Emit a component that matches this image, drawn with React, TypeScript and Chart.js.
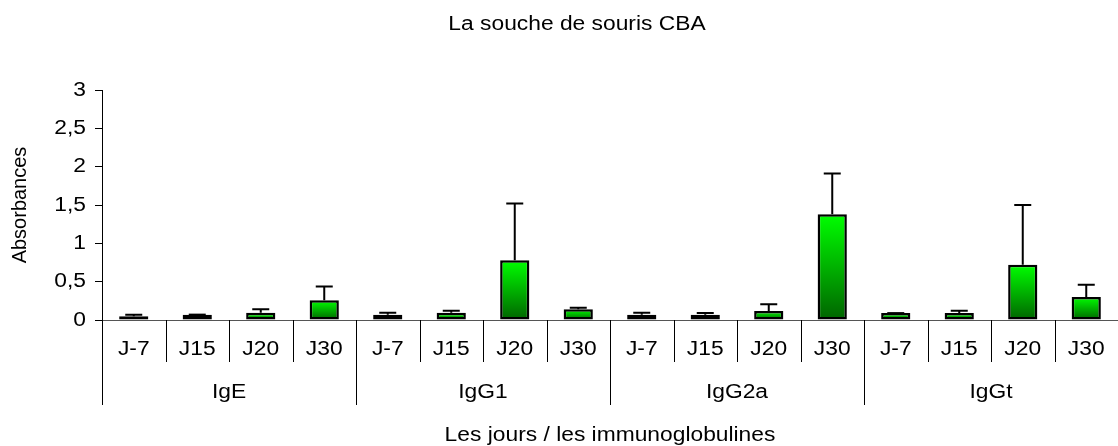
import React, { useEffect, useRef } from 'react';
import { Chart, registerables } from 'chart.js';

Chart.register(...registerables);

const chartTitle = 'La souche de souris CBA';
const xTitle = 'Les jours / les immunoglobulines';
const yTitle = 'Absorbances';
const groups = ['IgE', 'IgG1', 'IgG2a', 'IgGt'];
const days = ['J-7', 'J15', 'J20', 'J30'];

// mean absorbance per group (J-7, J15, J20, J30)
const igE = [0.05, 0.07, 0.095, 0.257];
const igG1 = [0.07, 0.095, 0.78, 0.14];
const igG2a = [0.07, 0.07, 0.117, 1.38];
const igGt = [0.09, 0.09, 0.72, 0.30];

// upper error (standard deviation) per group
const igEErr = [0.02, 0.0, 0.045, 0.18];
const igG1Err = [0.025, 0.025, 0.74, 0.02];
const igG2aErr = [0.025, 0.02, 0.09, 0.53];
const igGtErr = [0.0, 0.03, 0.78, 0.16];

const yTicks = [0, 0.5, 1, 1.5, 2, 2.5, 3];

const values = [...igE, ...igG1, ...igG2a, ...igGt];
const errors = [...igEErr, ...igG1Err, ...igG2aErr, ...igGtErr];
const labels = groups.flatMap((g) => days.map((d) => `${d} ${g}`));

const FONT = '"Liberation Sans", Arial, sans-serif';
const FS = 20;
const SX = 1.14;

function text(ctx: CanvasRenderingContext2D, s: string, x: number, y: number, align: CanvasTextAlign) {
  ctx.save();
  ctx.translate(x, y);
  ctx.scale(SX, 1);
  ctx.textAlign = align;
  ctx.fillText(s, 0, 0);
  ctx.restore();
}

const overlay = {
  id: 'overlay',
  afterDatasetsDraw(chart: any) {
    const { ctx, scales, chartArea } = chart;
    const x = scales.x;
    const y = scales.y;
    const meta = chart.getDatasetMeta(0);
    ctx.save();
    // error bars
    ctx.strokeStyle = '#000';
    ctx.lineWidth = 2;
    meta.data.forEach((bar: any, i: number) => {
      const py0 = y.getPixelForValue(values[i]);
      const py1 = y.getPixelForValue(values[i] + errors[i]);
      ctx.beginPath();
      ctx.moveTo(bar.x, py0);
      ctx.lineTo(bar.x, py1);
      ctx.moveTo(bar.x - 8.5, py1);
      ctx.lineTo(bar.x + 8.5, py1);
      ctx.stroke();
    });
    // multi-level category axis
    const bottom = chartArea.bottom;
    const half = (x.getPixelForValue(1) - x.getPixelForValue(0)) / 2;
    ctx.strokeStyle = '#000';
    ctx.lineWidth = 1;
    for (let i = 0; i < labels.length; i++) {
      const bx = Math.round(x.getPixelForValue(i) - half) + 0.5;
      ctx.beginPath();
      ctx.moveTo(bx, bottom);
      ctx.lineTo(bx, i % days.length === 0 ? bottom + 85 : bottom + 42);
      ctx.stroke();
    }
    ctx.fillStyle = '#000';
    ctx.font = `${FS}px ${FONT}`;
    ctx.textBaseline = 'alphabetic';
    labels.forEach((_, i) => {
      text(ctx, days[i % days.length], x.getPixelForValue(i), bottom + 35, 'center');
    });
    groups.forEach((g, gi) => {
      const a = x.getPixelForValue(gi * days.length) - half;
      const b = x.getPixelForValue(gi * days.length + days.length - 1) + half;
      text(ctx, g, (a + b) / 2, bottom + 78, 'center');
    });
    // y tick labels
    ctx.textBaseline = 'middle';
    yTicks.forEach((v) => {
      text(ctx, String(v).replace('.', ','), chartArea.left - 16, y.getPixelForValue(v), 'right');
    });
    // y title (rotated)
    ctx.save();
    ctx.translate(20, (chartArea.top + chartArea.bottom) / 2);
    ctx.rotate(-Math.PI / 2);
    ctx.textAlign = 'center';
    ctx.fillText(yTitle, 0, 0);
    ctx.restore();
    // x title
    ctx.textBaseline = 'alphabetic';
    text(ctx, xTitle, (chartArea.left + chartArea.right) / 2, 441, 'center');
    // chart title
    text(ctx, chartTitle, 577, 30, 'center');
    ctx.restore();
  },
};

export default function App() {
  const ref = useRef<HTMLCanvasElement | null>(null);
  useEffect(() => {
    if (!ref.current) return;
    const chart = new Chart(ref.current, {
      type: 'bar',
      data: {
        labels,
        datasets: [
          {
            data: values,
            backgroundColor: (c: any) => {
              const ch = c.chart;
              if (!ch.chartArea || !ch.scales.y) return '#00cc00';
              const v = values[c.dataIndex] ?? 0;
              const top = ch.scales.y.getPixelForValue(v);
              const base = ch.scales.y.getPixelForValue(0);
              if (!isFinite(top) || !isFinite(base) || base - top < 1) return '#00cc00';
              const g = ch.ctx.createLinearGradient(0, top, 0, base);
              g.addColorStop(0, '#00ff00');
              g.addColorStop(1, '#006400');
              return g;
            },
            borderColor: '#000',
            borderWidth: 2.5,
            borderSkipped: false,
            categoryPercentage: 1,
            barPercentage: 0.46,
          },
        ],
      },
      options: {
        animation: false,
        responsive: true,
        maintainAspectRatio: false,
        layout: { padding: { top: 90, left: 0, right: 0, bottom: 0 } },
        plugins: {
          legend: { display: false },
          tooltip: { enabled: false },
          title: { display: false },
        },
        scales: {
          x: {
            type: 'category',
            grid: { display: false },
            border: { display: true, color: '#555', width: 1 },
            ticks: { display: false },
            afterFit: (s: any) => {
              s.height = 126;
            },
          },
          y: {
            min: 0,
            max: 3,
            afterBuildTicks: (s: any) => {
              s.ticks = yTicks.map((v) => ({ value: v }));
            },
            grid: { display: true, drawOnChartArea: false, drawTicks: true, tickLength: 7, color: '#000' },
            border: { display: true, color: '#000', width: 1 },
            ticks: { display: false },
            afterFit: (s: any) => {
              s.width = 102;
            },
          },
        },
      },
      plugins: [overlay],
    });
    return () => chart.destroy();
  }, []);
  return (
    <div style={{ position: 'fixed', left: 0, top: 0, width: 1118, height: 446, background: '#fff' }}>
      <canvas ref={ref} />
    </div>
  );
}
